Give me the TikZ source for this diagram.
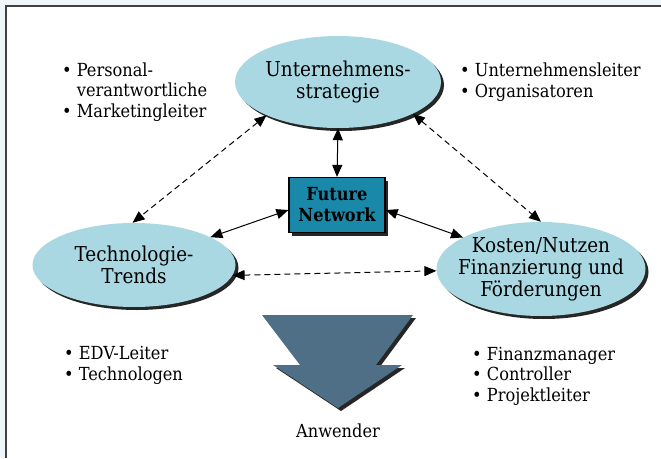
\documentclass[tikz,border=0pt]{standalone}
\usepackage{fontspec}
\setmainfont{DejaVu Serif Condensed}
\usetikzlibrary{shapes.geometric,arrows.meta,shadows}

\definecolor{bgblue}{HTML}{EEF6FA}
\definecolor{ellblue}{HTML}{A9D8E2}
\definecolor{netblue}{HTML}{1A88A8}
\definecolor{slate}{HTML}{4E6F86}

\tikzset{
  topic/.style={ellipse, fill=ellblue, align=center, inner xsep=-16pt, inner ysep=0pt,
    drop shadow={shadow xshift=3pt, shadow yshift=-3pt, fill=black!85, opacity=1},
    font=\fontsize{20.5}{22}\selectfont},
  bullets/.style={align=left, anchor=base west, inner sep=0pt,
    font=\fontsize{18}{20.5}\selectfont},
  link/.style={<->, >={Triangle[length=12pt,width=10pt]}, line width=1pt},
}

\begin{document}
\begin{tikzpicture}[x=1pt,y=-1pt]
    \useasboundingbox (0,0) rectangle (661,458);
    \fill[bgblue] (0,0) rectangle (661,458);
    \fill[white] (6,6) rectangle (661,458);
    \draw[black!75, line width=2.5pt] (6,458) -- (6,6) -- (661,6);

    % the three topics and the centre
    \node[topic, minimum width=206, minimum height=92] (strat) at (338,82) {Unternehmens-\\strategie};
    \node[topic, minimum width=203, minimum height=84] (tech) at (134,265) {Technologie-\\Trends};
    \node[topic, minimum width=209, minimum height=94] (kost) at (541,269) {Kosten/Nutzen\\Finanzierung und\\Förderungen};
    \node[draw, fill=netblue, line width=1.2pt, minimum width=96, minimum height=55, align=center,
          drop shadow={shadow xshift=3pt, shadow yshift=-3pt, fill=black!85, opacity=1},
          font=\bfseries\fontsize{18}{21}\selectfont] (net) at (337,205) {Future\\Network};

    % arrow down to the users
    \fill[black!85] (265,318) -- (416,318) -- (379,368) -- (405,368) -- (341,411) -- (276,368) -- (303,368) -- cycle;
    \fill[slate] (262,315) -- (413,315) -- (376,365) -- (402,365) -- (338,408) -- (273,365) -- (300,365) -- cycle;
    \node[anchor=base, font=\fontsize{18}{20}\selectfont] (user) at (338,437) {Anwender};

    % people (anchored at the last line)
    \node[bullets] (pers) at (62,117) {• Personal-\\\hphantom{• }verantwortliche\\• Marketingleiter};
    \node[bullets] (lead) at (460,97) {• Unternehmensleiter\\• Organisatoren};
    \node[bullets] (edv) at (64,380) {• EDV-Leiter\\• Technologen};
    \node[bullets] (fin) at (472,401) {• Finanzmanager\\• Controller\\• Projektleiter};

    % connectors
    \draw[link] (strat.south) -- (net.north);
    \draw[link] ([yshift=-5pt]net.west) -- (tech.20);
    \draw[link] ([yshift=-5pt]net.east) -- (kost.158);
    \draw[link, dash pattern=on 6pt off 4pt] (strat.-155) -- (tech.92);
    \draw[link, dash pattern=on 6pt off 4pt] (strat.-23) -- (kost.90);
    \draw[link, dash pattern=on 6pt off 4pt] (tech.-6) -- (kost.181);
\end{tikzpicture}
\end{document}
